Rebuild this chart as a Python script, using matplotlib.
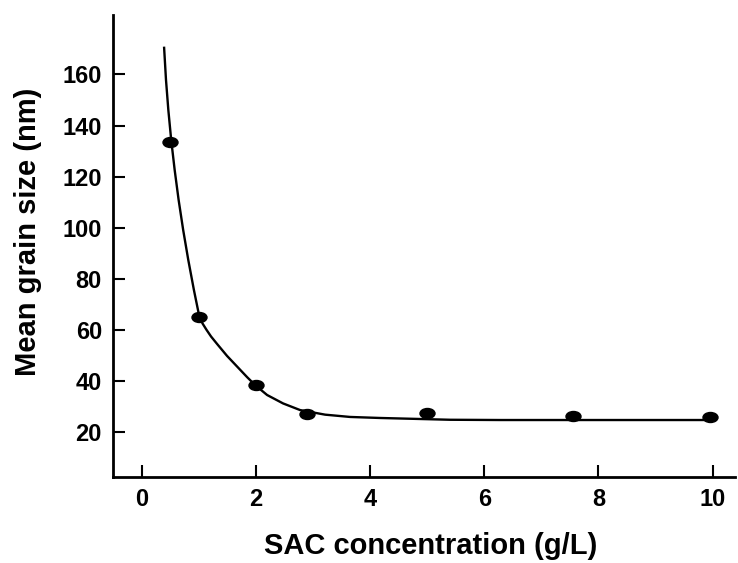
import matplotlib
matplotlib.use("Agg")
import matplotlib.pyplot as plt
from matplotlib.path import Path
from matplotlib.transforms import Affine2D

plt.rcParams['font.family'] = ['Liberation Sans', 'DejaVu Sans']
plt.rcParams['font.weight'] = 'bold'

# measured points
sac_conc = [0.5, 1.0, 2.0, 2.9, 5.0, 7.55, 9.95]
grain_size = [133.5, 65.0, 38.4, 27.1, 27.5, 26.3, 25.9]

# fitted curve
fit_x = [0.394, 0.428, 0.469, 0.519, 0.580, 0.649, 0.729, 0.818, 0.917, 0.988,
         1.012, 1.068, 1.138, 1.217, 1.322, 1.497, 1.848, 1.988, 2.198, 2.478,
         2.776, 3.214, 3.652, 4.177, 4.877, 5.403, 6.28, 7.0, 8.0, 9.0, 10.0]
fit_y = [170.9, 157.9, 146.1, 134.4, 122.6, 110.9, 99.1, 87.4, 75.6, 67.8,
         65.2, 62.5, 60.0, 57.4, 54.5, 49.8, 41.5, 38.4, 34.5, 31.2,
         28.6, 26.8, 25.9, 25.5, 25.1, 24.8, 24.7, 24.7, 24.7, 24.7, 24.7]

x_ticks = [0, 2, 4, 6, 8, 10]
y_ticks = [20, 40, 60, 80, 100, 120, 140, 160]

fig = plt.figure(figsize=(7.38, 5.63), dpi=100)
ax = fig.add_axes([0.1531, 0.1528, 0.8428, 0.8206])

ax.plot(fit_x, fit_y, color='black', lw=1.7, zorder=2,
        solid_joinstyle='round', solid_capstyle='butt')

# flattened dots like the original
ell = Path.unit_circle().transformed(Affine2D().scale(1.5, 1.0))
ax.plot(sac_conc, grain_size, linestyle='none', marker=ell, markersize=10.8,
        color='black', zorder=3)

ax.set_xlim(-0.5, 10.39)
ax.set_ylim(2.4, 183.3)
ax.set_xticks(x_ticks)
ax.set_yticks(y_ticks)

for s in ['top', 'right']:
    ax.spines[s].set_visible(False)
for s in ['left', 'bottom']:
    ax.spines[s].set_linewidth(2.0)

ax.tick_params(direction='in', length=8.5, width=1.5, labelsize=17, pad=8)
for lab in ax.get_xticklabels() + ax.get_yticklabels():
    lab.set_fontweight('bold')

ax.set_xlabel('SAC concentration (g/L)', fontsize=21, fontweight='bold', va='center')
ax.set_ylabel('Mean grain size (nm)', fontsize=21, fontweight='bold', va='center')
ax.xaxis.set_label_coords(0.510, -0.149)
ax.yaxis.set_label_coords(-0.136, 0.531)

fig.savefig('out.png', dpi=100)
